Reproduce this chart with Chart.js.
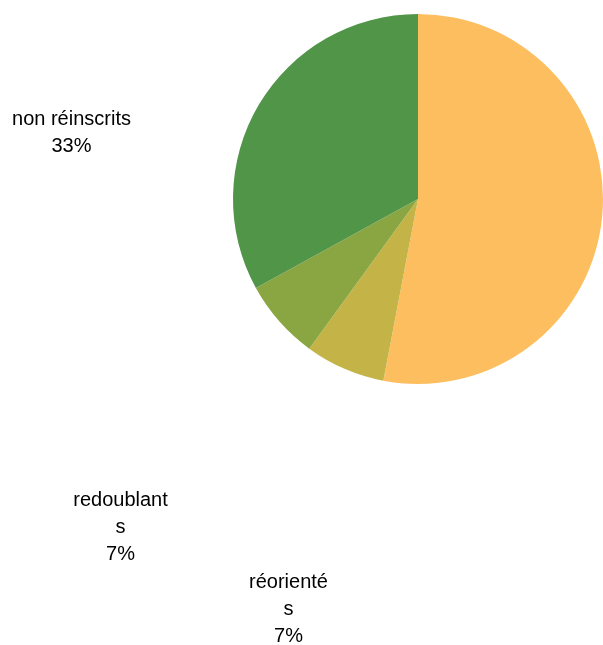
<!DOCTYPE html>
<html>
<head>
<meta charset="utf-8">
<script src="https://cdn.jsdelivr.net/npm/chart.js@4/dist/chart.umd.min.js"></script>
<style>
  html, body { margin: 0; padding: 0; background: #ffffff; }
  #wrap { width: 603px; height: 645px; position: relative; }
</style>
</head>
<body>
<div id="wrap"><canvas id="c" width="603" height="645"></canvas></div>
<script>
// ---- data ----
const categories = ['réinscrits', 'réorientés', 'redoublants', 'non réinscrits'];
const values = [53, 7, 7, 33];
const labelLines = [null, ['réorienté', 's'], ['redoublant', 's'], ['non réinscrits']];
const colors = ['#FDBE5F', '#C4B347', '#8AA642', '#519548'];

// label anchor (center of first line) positions, in canvas pixels
const labelAnchors = [null, [288.5, 582], [120.5, 500], [71.5, 119]];

const total = values.reduce((a, b) => a + b, 0);

const labelPlugin = {
  id: 'sliceLabels',
  afterDraw(chart) {
    const ctx = chart.ctx;
    ctx.save();
    ctx.font = '20px "Liberation Sans", Arial, sans-serif';
    ctx.fillStyle = '#000000';
    ctx.textAlign = 'center';
    ctx.textBaseline = 'middle';
    const lh = 27;
    chart.data.labels.forEach((lab, i) => {
      const lines = labelLines[i];
      const anchor = labelAnchors[i];
      if (!lines || !anchor) return;
      const pct = Math.round(chart.data.datasets[0].data[i] / total * 100) + '%';
      const all = lines.concat([pct]);
      all.forEach((t, k) => ctx.fillText(t, anchor[0], anchor[1] + k * lh));
    });
    ctx.restore();
  }
};

new Chart(document.getElementById('c'), {
  type: 'pie',
  data: {
    labels: categories,
    datasets: [{
      data: values,
      backgroundColor: colors,
      borderWidth: 0
    }]
  },
  options: {
    responsive: false,
    animation: false,
    layout: { padding: { left: 233, top: 14, right: 0, bottom: 261 } },
    plugins: {
      legend: { display: false },
      tooltip: { enabled: false }
    }
  },
  plugins: [labelPlugin]
});
</script>
</body>
</html>
